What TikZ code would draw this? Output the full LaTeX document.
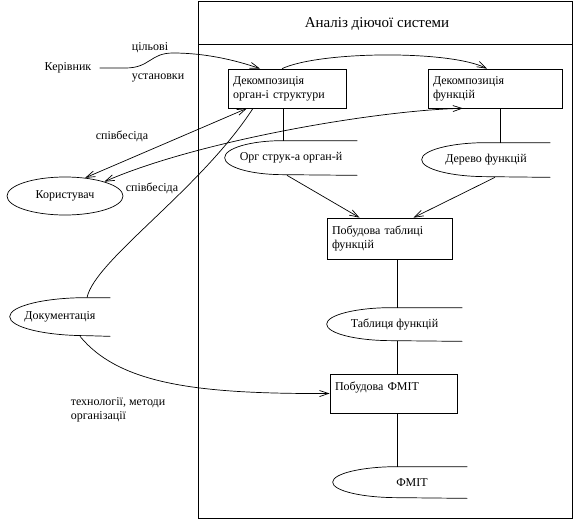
\documentclass[tikz,border=0pt]{standalone}
\usepackage{fontspec}
\setmainfont{Liberation Serif}
\usetikzlibrary{arrows.meta,shapes.geometric}

\newcommand{\storeshape}[3]{\draw (#1.north east) -- ([xshift=#2]#1.north west) arc[start angle=90, end angle=270, x radius=#2, y radius=#3] -- (#1.south east);}

\begin{document}
\begin{tikzpicture}[x=1pt,y=-1pt,line width=0.7pt,
  >={Straight Barb[length=9pt,width=6pt]},
  txt/.style={font=\fontsize{12}{14}\selectfont},
  box/.style={draw,txt,align=left,inner xsep=5pt,minimum height=39pt},
  store/.style={txt,minimum height=#1},
  actor/.style={draw,ellipse,txt,minimum width=116pt,minimum height=38pt}]
\tikzstyle{every node}+=[inner sep=0pt]
\useasboundingbox (0,0) rectangle (588,527);
\draw (198,1) rectangle (572,518);
\draw (198,44) -- (572,44);
\node[font=\fontsize{15}{17}\selectfont] (title) at (377,24) {Аналіз діючої системи};
\node[box,text width=108pt] (dek1) at (287,88.5) {Декомпозиція\\орган-і структури};
\node[box,text width=124pt] (dek2) at (495,88.5) {Декомпозиція\\функцій};
\node[box,text width=115pt,minimum height=41pt] (b3) at (389.5,238.5) {Побудова таблиці\\функцій};
\node[box,text width=117pt] (b4) at (393.5,393.5) {Побудова ФМІТ\\\mbox{}};
\node[store=34pt,minimum width=132pt] (org) at (291,158) {Орг струк-а орган-й};
\storeshape{org}{58pt}{17pt}
\node[store=34pt,minimum width=128pt] (der) at (486,160) {Дерево функцій};
\storeshape{der}{65pt}{17pt}
\node[store=33pt,minimum width=135pt] (tab) at (394.5,324.5) {Таблиця функцій};
\storeshape{tab}{65pt}{16.5pt}
\node[store=31pt,minimum width=134pt] (fmit) at (400,482.5) {\hspace*{24pt}ФМІТ};
\storeshape{fmit}{65pt}{15.5pt}
\node[store=38pt,minimum width=100pt] (doc) at (60,317) {Документація};
\storeshape{doc}{77pt}{19pt}
\node[actor] (kor) at (65,196) {Користувач};
\node[txt,inner sep=4pt] (ker) at (68,68) {Керівник};
\node[txt] (goal1) at (150,48) {цільові};
\node[txt] (goal2) at (158,78) {установки};
\node[txt] (talk1) at (122,136) {співбесіда};
\node[txt] (talk2) at (152,188) {співбесіда};
\node[txt,align=left] (tech) at (118,409.5) {технології, методи\\організації};
\draw[->] ([xshift=4pt]ker.east) -- ++(26,0) .. controls (150,68) and (150,53) .. (173,53) .. controls (205,53) and (235,60) .. ([xshift=-27pt]dek1.north);
\draw[->] ([xshift=-5pt]dek1.north) .. controls (320,51) and (450,50) .. ([xshift=-8pt]dek2.north);
\draw[<->] ([xshift=-40pt]dek1.south) -- (kor.42);
\draw[<->] ([xshift=-32pt]dek2.south) .. controls (380,110) and (200,140) .. (kor.20);
\draw ([xshift=27pt]doc.north) .. controls (95,260) and (200,190) .. ([xshift=-34pt]dek1.south);
\draw[->] ([xshift=20pt]doc.south) .. controls (120,385) and (200,394) .. (b4.west);
\draw[->] ([xshift=-4pt]org.south) -- ([xshift=-30pt]b3.north);
\draw[->] ([xshift=9pt]der.south) -- ([xshift=24pt]b3.north);
\draw ([xshift=-4pt]dek1.south) -- ([xshift=-8pt]org.north);
\draw ([xshift=5pt]dek2.south) -- ([xshift=14pt]der.north);
\draw ([xshift=7.5pt]b3.south) -- ([xshift=2.5pt]tab.north);
\draw ([xshift=2.5pt]tab.south) -- ([xshift=3.5pt]b4.north);
\draw ([xshift=3.5pt]b4.south) -- ([xshift=-3pt]fmit.north);
\end{tikzpicture}
\end{document}
